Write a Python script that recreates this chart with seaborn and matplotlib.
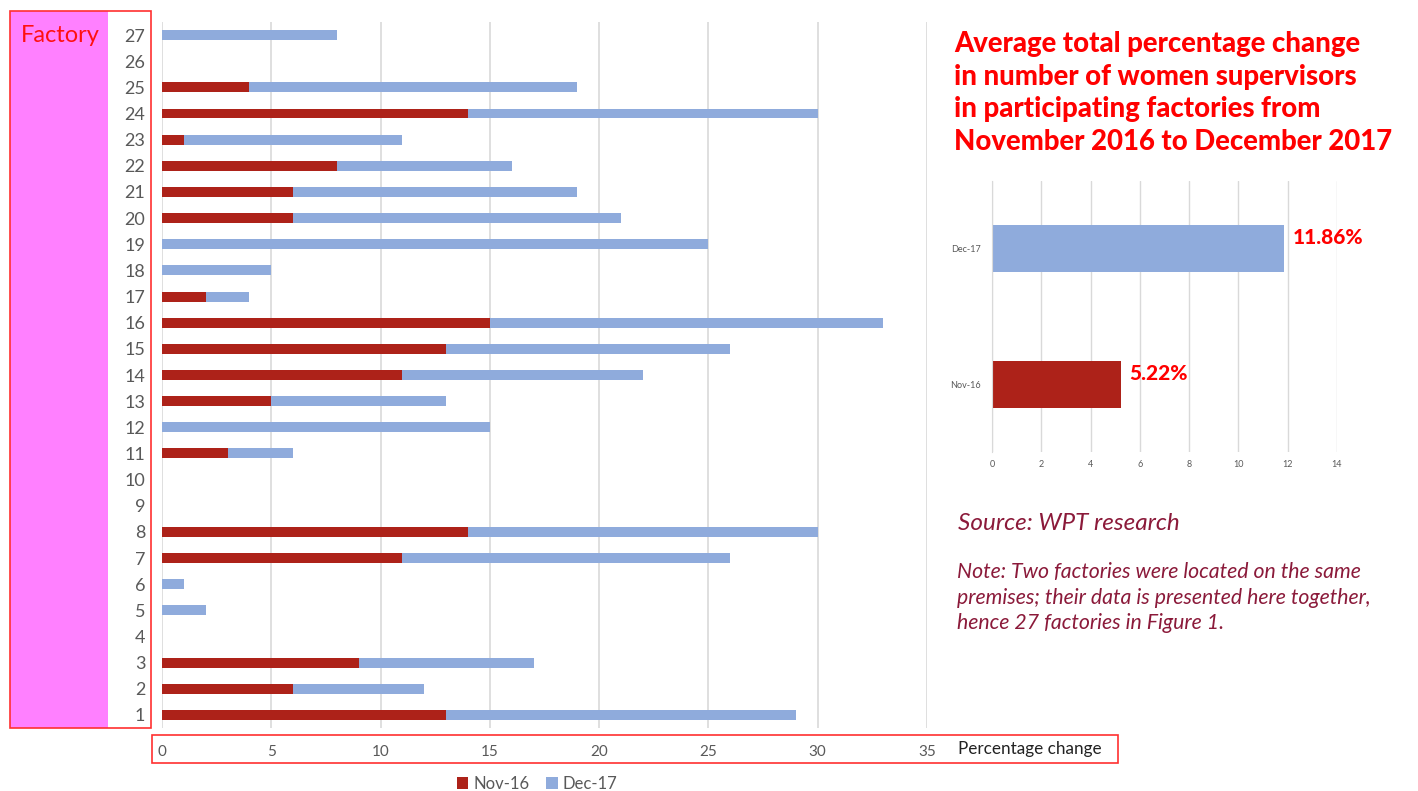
import numpy as np
import pandas as pd
import matplotlib
matplotlib.use("Agg")
import matplotlib.pyplot as plt
import seaborn as sns
from matplotlib.patches import Rectangle

# dados
factories = [str(i) for i in range(1, 28)]
nov16 = [13, 6, 9, 0, 0, 0, 11, 14, 0, 0, 3, 0, 5, 11, 13, 15, 2, 0, 0, 6, 6, 8, 1, 14, 4, 0, 0]
dec17 = [16, 6, 8, 0, 2, 1, 15, 16, 0, 0, 3, 15, 8, 11, 13, 18, 2, 5, 25, 15, 13, 8, 10, 16, 15, 0, 8]

avg_labels = ['Dec-17', 'Nov-16']
avg_values = [11.86, 5.22]

RED = '#AD2219'
BLUE = '#8FABDC'
GREY = '#595959'

sns.set_style("white")
plt.rcParams['font.family'] = ['Lato', 'DejaVu Sans']

df = pd.DataFrame({'factory': factories, 'nov': nov16, 'dec': dec17})
df['total'] = df['nov'] + df['dec']
order = factories[::-1]

W, H = 1418, 791
fig = plt.figure(figsize=(W / 100, H / 100), dpi=100)


def fx(px):
    return px / W


def fy(py):
    return 1 - py / H


# caixas de fundo (magenta e contornos vermelhos)
fig.patches.append(Rectangle((fx(10), fy(728)), fx(98), 717 / H, transform=fig.transFigure,
                             facecolor='#FF80FF', edgecolor='none', zorder=0))
fig.patches.append(Rectangle((fx(10), fy(728)), fx(141), 717 / H, transform=fig.transFigure,
                             facecolor='none', edgecolor='#FF3030', lw=1.2, zorder=1))
fig.patches.append(Rectangle((fx(152), fy(763)), fx(966), 28 / H, transform=fig.transFigure,
                             facecolor='none', edgecolor='#FF3030', lw=1.2, zorder=1))
fig.text(fx(60), fy(36), 'Factory', color='#FF1010', fontsize=17, ha='center', va='center')

# grafico principal empilhado
ax = fig.add_axes([fx(162), fy(728), fx(927 - 162), (728 - 22) / H])
ax.patch.set_alpha(0)
sns.barplot(data=df, x='total', y='factory', order=order, orient='h', color=BLUE,
            width=0.38, linewidth=0, saturation=1, label='Dec-17', ax=ax)
sns.barplot(data=df, x='nov', y='factory', order=order, orient='h', color=RED,
            width=0.38, linewidth=0, saturation=1, label='Nov-16', ax=ax)
ax.set_xlim(0, 35)
ax.set_ylim(26.5, -0.5)
ax.set_xticks(range(0, 36, 5))
ax.grid(axis='x', color='#D9D9D9', lw=1.2)
ax.set_axisbelow(True)
sns.despine(ax=ax, left=True, bottom=True)
ax.tick_params(axis='y', length=0, pad=12, labelsize=13, labelcolor=GREY)
ax.tick_params(axis='x', length=0, pad=12, labelsize=11, labelcolor=GREY)
ax.set_xlabel('')
ax.set_ylabel('')
fig.text(fx(958), fy(749), 'Percentage change', fontsize=12.3, color='#222222', va='center')

h, l = ax.get_legend_handles_labels()
leg = ax.legend(h[::-1], l[::-1], loc='center', bbox_to_anchor=(fx(537), fy(784)),
                bbox_transform=fig.transFigure, ncol=2, frameon=False, fontsize=12,
                handlelength=0.7, handleheight=0.7, handletextpad=0.3, columnspacing=1.0)
for t in leg.get_texts():
    t.set_color(GREY)

# titulo
fig.text(fx(954), fy(31), 'Average total percentage change\nin number of women supervisors\n'
         'in participating factories from\nNovember 2016 to December 2017',
         color='#FF0000', fontsize=19.8, fontweight='black', va='top', ha='left', linespacing=1.31)

# grafico pequeno das medias
ax2 = fig.add_axes([fx(992), fy(452), fx(1337 - 992), (452 - 181) / H])
sns.barplot(x=avg_values, y=avg_labels, orient='h', hue=avg_labels,
            palette=[BLUE, RED], width=0.35, linewidth=0, saturation=1, legend=False, ax=ax2)
ax2.set_xlim(0, 14)
ax2.set_xticks(range(0, 15, 2))
ax2.set_ylim(1.5, -0.5)
ax2.set_yticks([-0.5, 0.5, 1.5], minor=True)
ax2.grid(axis='x', color='#D9D9D9', lw=1)
ax2.set_axisbelow(True)
sns.despine(ax=ax2, bottom=True, right=True, top=True)
ax2.spines['left'].set_color('#D9D9D9')
ax2.tick_params(axis='y', which='major', length=0, pad=8, labelsize=6.5, labelcolor=GREY)
ax2.tick_params(axis='y', which='minor', length=3, color='#D9D9D9', direction='out')
ax2.tick_params(axis='x', length=0, pad=6, labelsize=6.5, labelcolor=GREY)
for i, v in enumerate(avg_values):
    ax2.text(v + 0.35, i - 0.08, f'{v:.2f}%', color='#FF0000', fontsize=15,
             fontweight='black', va='center', ha='left')

# fonte e nota
fig.text(fx(958), fy(523), 'Source: WPT research', color='#8B1A3A', fontsize=17.5,
         style='italic', va='center')
fig.text(fx(957), fy(562), 'Note: Two factories were located on the same\n'
         'premises; their data is presented here together,\nhence 27 factories in Figure 1.',
         color='#8B1A3A', fontsize=15.3, style='italic', va='top', linespacing=1.35)

plt.savefig('out.png', dpi=100)
